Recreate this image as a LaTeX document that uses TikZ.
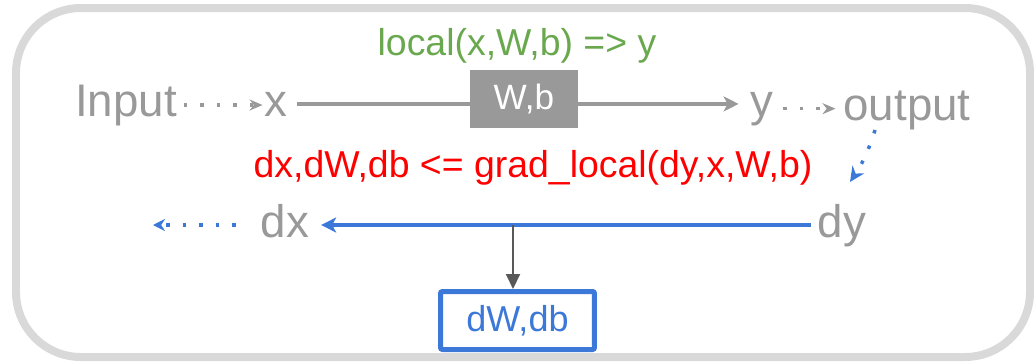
\documentclass[tikz,border=0pt]{standalone}
\usepackage{fontspec}
\setmainfont{Liberation Sans}
\usetikzlibrary{arrows.meta}
\definecolor{txtgray}{HTML}{999999}
\definecolor{fwdgreen}{HTML}{6AA84F}
\definecolor{bwdblue}{HTML}{3C78D8}
\definecolor{dkgray}{HTML}{595959}
\definecolor{framegray}{HTML}{D9D9D9}

\begin{document}
\begin{tikzpicture}[x=0.02cm, y=-0.02cm,
    var/.style={inner sep=0pt, outer sep=0pt, anchor=base, text=txtgray,
      font=\fontsize{26}{30}\selectfont},
    formula/.style={inner sep=0pt, anchor=base, font=\fontsize{21.3}{25}\selectfont},
    dots/.style={line width=0.07cm, dash pattern=on 0.07cm off 0.26cm},
    flow/.style={line width=0.08cm}]
      \useasboundingbox (0,0) rectangle (1034,362);%
      \draw[framegray, line width=0.16cm, rounded corners=1.3cm] (16,8) rectangle (1030,357);%

      % forward pass
      \node[var] (input) at (126,116) {Input};%
      \node[var] (x) at (276,116) {x};%
      \node[var] (y) at (762,116) {y};%
      \node[var] (output) at (907,120) {output};%
      \node[formula, text=fwdgreen] (fwd) at (517,55) {local(x,W,b) => y};%
      \draw[txtgray, dots, -{Stealth[length=0.26cm, width=0.22cm]},
        shorten <=0.14cm, shorten >=0.04cm] (input.east) -- (x.west |- input.east);%
      \draw[txtgray, flow, -{Stealth[length=0.3cm, width=0.3cm, inset=0.08cm]},
        shorten <=0.2cm, shorten >=0.24cm] (x.east) -- (y.west |- x.east);%
      \node[fill=txtgray, text=white, minimum width=2.16cm, minimum height=1.16cm,
        font=\fontsize{20}{24}\selectfont] (wb) at (524,99) {W,b};%
      \draw[txtgray, dots, -{Stealth[length=0.26cm, width=0.22cm]},
        shorten <=0.2cm, shorten >=0.16cm] (y.east) -- (output.west |- y.east);%

      % backward pass
      \node[formula, text=red] (bwd) at (533,177) {dx,dW,db <= grad\_local(dy,x,W,b)};%
      \node[var] (dx) at (285,237) {dx};%
      \node[var] (dy) at (842,237) {dy};%
      \coordinate (gs) at (875,130);%
      \coordinate (ge) at (850,182);%
      \coordinate (lf) at (153,225);%
      \coordinate (br) at (513,225);%
      \draw[bwdblue, dots, -{Stealth[length=0.3cm, width=0.28cm]}] (gs) to[bend left=8] (ge);%
      \draw[bwdblue, flow, -{Stealth[length=0.3cm, width=0.3cm, inset=0.08cm]},
        shorten <=0.14cm, shorten >=0.24cm] (dy.west |- br) -- (dx.east |- br);%
      \draw[bwdblue, dots, -{Stealth[length=0.24cm, width=0.24cm]},
        shorten <=0.5cm] (dx.west |- lf) -- (lf);%
      \node[draw=bwdblue, line width=0.1cm, rounded corners=0.04cm, text=bwdblue,
        minimum width=3.08cm, minimum height=1.16cm,
        font=\fontsize{20.5}{24}\selectfont] (dwdb) at (517.5,320.5) {dW,db};%
      \draw[dkgray, line width=0.04cm, -{Triangle[length=0.3cm, width=0.28cm]}] (br) -- (dwdb.north -| br);%
\end{tikzpicture}
\end{document}
